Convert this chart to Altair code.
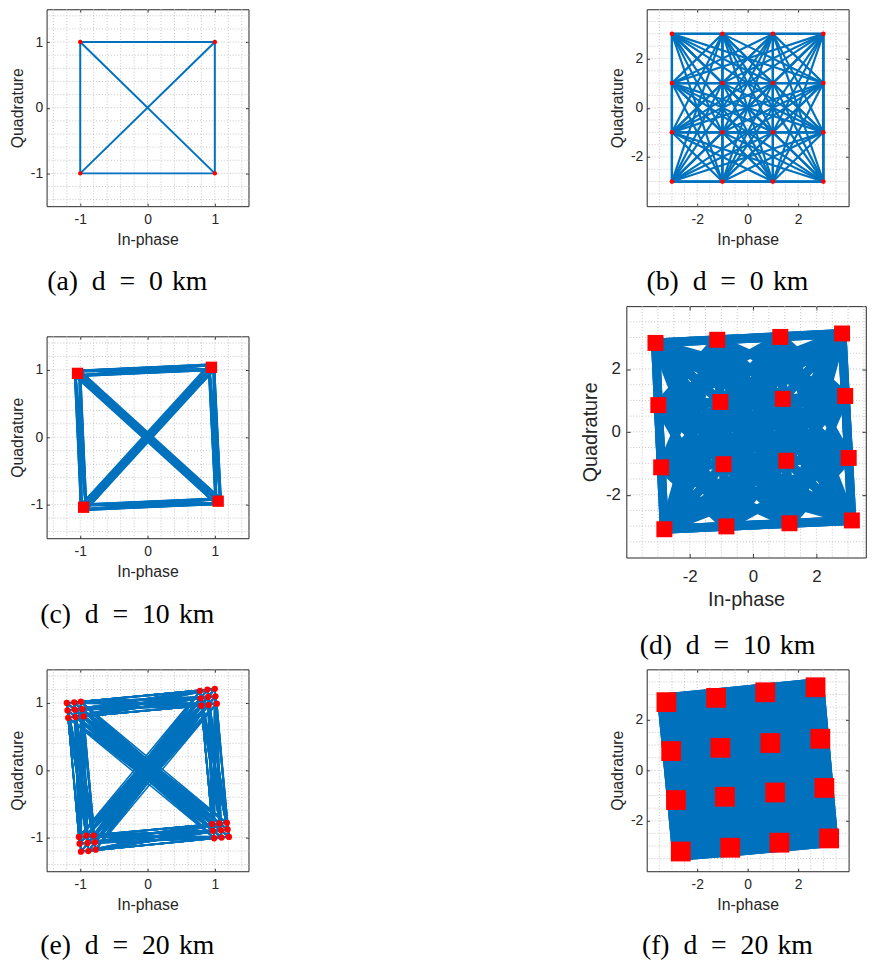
import itertools
import altair as alt
import pandas as pd

BLUE = "#0072BD"
RED = "#FF0000"
GRIDC = "#c4c4c4"
TXT = "#262626"
SANS = "Liberation Sans"
SERIF = "Liberation Serif"

# ---------------- data ----------------
# (a) QPSK, d = 0 km
A_I = [-1, 1, 1, -1]
A_Q = [1, 1, -1, -1]
A_EDGES = [(0, 1), (1, 2), (2, 3), (3, 0), (0, 2), (1, 3)]

# (b) 16-QAM, d = 0 km
B_I = [-3, -1, 1, 3, -3, -1, 1, 3, -3, -1, 1, 3, -3, -1, 1, 3]
B_Q = [3, 3, 3, 3, 1, 1, 1, 1, -1, -1, -1, -1, -3, -3, -3, -3]

# (c) QPSK, d = 10 km : cluster centres and trace samples
C_CI = [-1.04, 0.95, 1.05, -0.95]
C_CQ = [0.95, 1.04, -0.95, -1.04]
C_I = [-1.08, -1.01, -1.07, -1.00, 0.91, 0.98, 0.92, 0.99,
       1.01, 1.08, 1.02, 1.09, -0.99, -0.92, -0.98, -0.91]
C_Q = [0.98, 0.99, 0.91, 0.92, 1.07, 1.08, 1.00, 1.01,
       -0.92, -0.91, -0.99, -0.98, -1.01, -1.00, -1.08, -1.07]
C_K = [0, 0, 0, 0, 1, 1, 1, 1, 2, 2, 2, 2, 3, 3, 3, 3]

# (d) 16-QAM, d = 10 km : cluster centres
D_I = [-3.08, -1.13, 0.86, 2.81, -2.99, -1.03, 0.94, 2.91,
       -2.90, -0.93, 1.05, 3.02, -2.80, -0.84, 1.15, 3.12]
D_Q = [2.83, 2.93, 3.02, 3.13, 0.85, 0.95, 1.05, 1.14,
       -1.13, -1.03, -0.92, -0.83, -3.10, -3.01, -2.91, -2.82]

# (e) QPSK, d = 20 km : received points (9 per cluster)
E_I = [-1.20, -1.09, -0.99, -1.19, -1.08, -0.97, -1.18, -1.07, -0.95,
       0.78, 0.89, 1.00, 0.79, 0.90, 1.01, 0.80, 0.91, 1.03,
       0.96, 1.07, 1.18, 0.97, 1.09, 1.19, 0.99, 1.10, 1.21,
       -1.02, -0.91, -0.80, -1.01, -0.89, -0.78, -0.99, -0.88, -0.77]
E_Q = [1.00, 1.01, 1.02, 0.89, 0.90, 0.91, 0.78, 0.79, 0.80,
       1.18, 1.20, 1.21, 1.07, 1.09, 1.10, 0.96, 0.97, 0.99,
       -0.80, -0.79, -0.78, -0.90, -0.89, -0.88, -1.01, -1.00, -0.99,
       -0.99, -0.97, -0.97, -1.09, -1.08, -1.07, -1.21, -1.20, -1.18]
E_K = [0] * 9 + [1] * 9 + [2] * 9 + [3] * 9

# (f) 16-QAM, d = 20 km : cluster centres
F_I = [-3.22, -1.25, 0.70, 2.69, -3.03, -1.08, 0.90, 2.88,
       -2.84, -0.90, 1.09, 3.04, -2.65, -0.69, 1.26, 3.23]
F_Q = [2.70, 2.87, 3.09, 3.29, 0.76, 0.89, 1.08, 1.25,
       -1.18, -1.05, -0.88, -0.70, -3.22, -3.07, -2.87, -2.70]

# axes
TICKS_S = [-1, 0, 1]
TICKS_L = [-2, 0, 2]
GRID_S = [-1.4, -1.2, -1.0, -0.8, -0.6, -0.4, -0.2, 0.0, 0.2, 0.4, 0.6, 0.8, 1.0, 1.2, 1.4]
GRID_L = [-3.5, -3.0, -2.5, -2.0, -1.5, -1.0, -0.5, 0.0, 0.5, 1.0, 1.5, 2.0, 2.5, 3.0, 3.5]

CAPTIONS = ["(a)\u2002d\u2002=\u20020\u2004km", "(b)\u2002d\u2002=\u20020\u2004km",
            "(c)\u2002d\u2002=\u200210\u2004km", "(d)\u2002d\u2002=\u200210\u2004km",
            "(e)\u2002d\u2002=\u200220\u2004km", "(f)\u2002d\u2002=\u200220\u2004km"]


def segs_from_edges(I, Q, edges):
    return pd.DataFrame({"x": [I[a] for a, b in edges], "y": [Q[a] for a, b in edges],
                         "x2": [I[b] for a, b in edges], "y2": [Q[b] for a, b in edges]})


def segs_between_clusters(I, Q, K):
    edges = [(a, b) for a, b in itertools.combinations(range(len(I)), 2) if K[a] != K[b]]
    return segs_from_edges(I, Q, edges)


def panel(segs, pI, pQ, xdom, ydom, grid, ticks, w, h, lw, cap, msize, mshape, caption,
          fs_lab=14, fs_tit=16, lpad_x=6, tpad_x=6, lpad_y=4, tpad_y=5, cap_off=23, cap_dx=-2,
          tick_len=3):
    common = dict(grid=False, ticks=False, tickSize=0, domain=False,
                  labelExpr="toString(datum.value)", labelFont=SANS, titleFont=SANS,
                  labelColor=TXT, titleColor=TXT, titleFontWeight="normal",
                  labelFontSize=fs_lab, titleFontSize=fs_tit)
    xaxis = alt.Axis(values=ticks, title="In-phase", labelPadding=lpad_x, titlePadding=tpad_x, **common)
    yaxis = alt.Axis(values=ticks, title="Quadrature", labelPadding=lpad_y, titlePadding=tpad_y, **common)
    # inward tick marks on all four sides of the box
    tk = dict(values=ticks, labels=False, title=None, domain=False, grid=False, ticks=True,
              tickSize=tick_len, tickColor=TXT, tickWidth=1)
    x_in_bottom = alt.Axis(orient="top", offset=-h, **tk)
    x_in_top = alt.Axis(orient="bottom", offset=-h, **tk)
    y_in_left = alt.Axis(orient="right", offset=-w, **tk)
    y_in_right = alt.Axis(orient="left", offset=-w, **tk)

    xs = alt.Scale(domain=xdom, nice=False, zero=False)
    ys = alt.Scale(domain=ydom, nice=False, zero=False)

    def X(f, ax):
        return alt.X(f, type="quantitative", scale=xs, axis=ax)

    def Y(f, ax):
        return alt.Y(f, type="quantitative", scale=ys, axis=ax)

    gdf = pd.DataFrame({"v": grid})
    gx = alt.Chart(gdf).mark_rule(color=GRIDC, strokeDash=[1, 2], strokeWidth=1).encode(x=X("v", xaxis))
    gy = alt.Chart(gdf).mark_rule(color=GRIDC, strokeDash=[1, 2], strokeWidth=1).encode(y=Y("v", yaxis))
    lines = alt.Chart(segs).mark_rule(color=BLUE, strokeWidth=lw, strokeCap=cap, clip=True).encode(
        x=X("x", x_in_bottom), y=Y("y", y_in_left), x2="x2:Q", y2="y2:Q")
    pdf = pd.DataFrame({"x": pI, "y": pQ})
    pts = alt.Chart(pdf).mark_point(shape=mshape, filled=True, size=msize, color=RED,
                                    opacity=1, strokeWidth=0).encode(
        x=X("x", x_in_top), y=Y("y", y_in_right))
    return alt.layer(gx, gy, lines, pts).resolve_axis(x="independent", y="independent").properties(
        width=w, height=h,
        title=alt.TitleParams(text=caption, orient="bottom", anchor="middle", frame="bounds",
                              font=SERIF, fontSize=28, fontWeight="normal", color="black",
                              baseline="top", offset=cap_off, dx=cap_dx))


S = [-1.5, 1.5]
L = [-4, 4]

pa = panel(segs_from_edges(A_I, A_Q, A_EDGES), A_I, A_Q, S, S, GRID_S, TICKS_S,
           204, 199, 2, "round", 20, "circle", CAPTIONS[0], cap_off=21)
pb = panel(segs_between_clusters(B_I, B_Q, list(range(16))), B_I, B_Q, L, L, GRID_L, TICKS_L,
           204, 199, 2.2, "round", 22, "circle", CAPTIONS[1], cap_off=21)
pc = panel(segs_between_clusters(C_I, C_Q, C_K), C_CI, C_CQ, S, S, GRID_S, TICKS_S,
           204, 204, 2.5, "round", 130, "square", CAPTIONS[2], cap_off=22)
pd_ = panel(segs_between_clusters(D_I, D_Q, list(range(16))), D_I, D_Q, [-4, 3.56], L, GRID_L, TICKS_L,
            242, 254, 9, "butt", 260, "square", CAPTIONS[3],
            fs_lab=17, fs_tit=20, lpad_x=11, tpad_x=5, lpad_y=6, tpad_y=5, cap_off=23, cap_dx=4,
            tick_len=4)
pe = panel(segs_between_clusters(E_I, E_Q, E_K), E_I, E_Q, S, S, GRID_S, TICKS_S,
           204, 204, 1.6, "round", 40, "circle", CAPTIONS[4], cap_off=20)
pf = panel(segs_between_clusters(F_I, F_Q, list(range(16))), F_I, F_Q, L, L, GRID_L, TICKS_L,
           204, 204, 18, "butt", 400, "square", CAPTIONS[5], cap_off=20)

row1 = alt.hconcat(pa, pb, spacing=363.4, center=True)
row2 = alt.hconcat(pc, pd_, spacing=333.8, center=True)
row3 = alt.hconcat(pe, pf, spacing=363.4, center=True)

chart = alt.vconcat(row1, row2, row3, spacing=8).properties(
    padding={"left": 1, "top": -5, "right": 0, "bottom": 0},
    background="white",
).configure_axis(
    labelFont=SANS, titleFont=SANS, labelColor=TXT, titleColor=TXT, titleFontWeight="normal"
).configure_view(stroke="#262626", strokeWidth=1)

chart.save("out.html", embed_options={"renderer": "svg", "actions": False})
